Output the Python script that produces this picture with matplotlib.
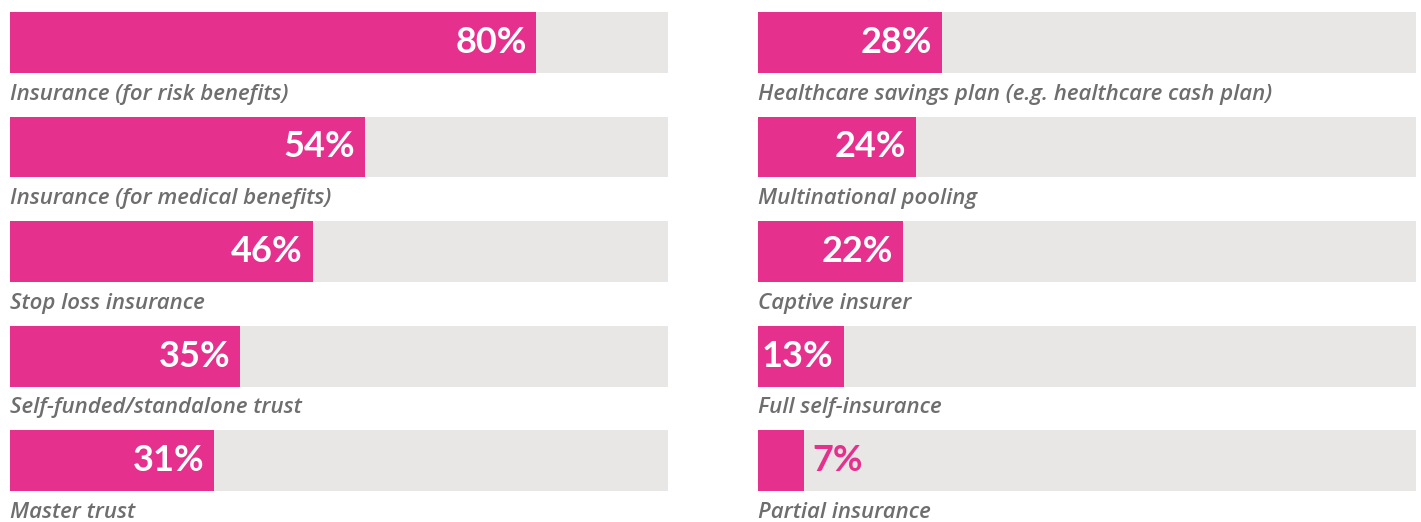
import matplotlib.pyplot as plt

left_labels = ["Insurance (for risk benefits)", "Insurance (for medical benefits)",
               "Stop loss insurance", "Self-funded/standalone trust", "Master trust"]
left_values = [80, 54, 46, 35, 31]
right_labels = ["Healthcare savings plan (e.g. healthcare cash plan)", "Multinational pooling",
                "Captive insurer", "Full self-insurance", "Partial insurance"]
right_values = [28, 24, 22, 13, 7]

PINK = "#E5318D"
GREY = "#E8E7E5"
TEXT = "#6F6E6E"

W, H = 1421, 522
fig = plt.figure(figsize=(W / 100, H / 100), dpi=100)
pitch = 104.6
top = -42.35 / pitch
bottom = top + H / pitch


def draw(x0, labels, values):
    ax = fig.add_axes([x0 / W, 0, 658 / W, 1])
    rows = range(len(values))
    ax.barh(rows, [100] * len(values), height=60.7 / pitch, color=GREY)
    ax.barh(rows, values, height=60.7 / pitch, color=PINK)
    for i, (lab, v) in enumerate(zip(labels, values)):
        if v >= 10:
            ax.text(v - 1.5, i, f"{v}%", color="white", fontsize=26, fontweight="bold",
                    family="Lato", ha="right", va="center")
        else:
            ax.text(v + 1.2, i, f"{v}%", color=PINK, fontsize=26, fontweight="bold",
                    family="Lato", ha="left", va="center")
        ax.text(0, i + 0.495, lab, color=TEXT, fontsize=16, fontstyle="italic",
                fontweight="semibold", family="Open Sans", ha="left", va="center")
    ax.set_xlim(0, 100)
    ax.set_ylim(bottom, top)
    ax.axis("off")


draw(10, left_labels, left_values)
draw(758, right_labels, right_values)

fig.savefig("out.png", dpi=100)
